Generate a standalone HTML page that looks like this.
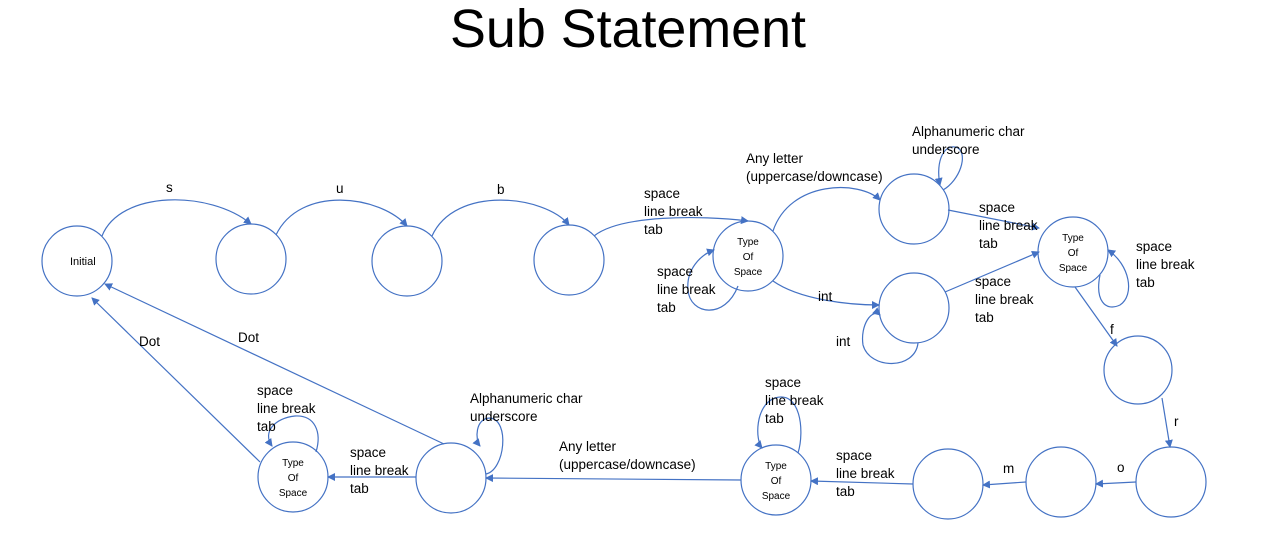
<!DOCTYPE html>
<html><head><meta charset="utf-8"><style>
html,body{margin:0;padding:0;background:#fff;}
svg{display:block;font-family:"Liberation Sans",sans-serif;}
</style></head><body>
<svg width="1265" height="551" viewBox="0 0 1265 551" xmlns="http://www.w3.org/2000/svg">
<defs><marker id="a" markerWidth="8" markerHeight="8" refX="7" refY="4" orient="auto" markerUnits="userSpaceOnUse"><path d="M0,0 L8,4 L0,8 z" fill="#4472C4"/></marker></defs>
<text x="628" y="47" font-size="54" text-anchor="middle" fill="#000" textLength="356" lengthAdjust="spacingAndGlyphs">Sub Statement</text>
<g fill="none" stroke="#4472C4" stroke-width="1.2">
<circle cx="77" cy="261" r="35"/>
<circle cx="251" cy="259" r="35"/>
<circle cx="407" cy="261" r="35"/>
<circle cx="569" cy="260" r="35"/>
<circle cx="748" cy="256" r="35"/>
<circle cx="914" cy="209" r="35"/>
<circle cx="1073" cy="252" r="35"/>
<circle cx="914" cy="308" r="35"/>
<circle cx="1138" cy="370" r="34"/>
<circle cx="1171" cy="482" r="35"/>
<circle cx="1061" cy="482" r="35"/>
<circle cx="948" cy="484" r="35"/>
<circle cx="776" cy="480" r="35"/>
<circle cx="451" cy="478" r="35"/>
<circle cx="293" cy="477" r="35"/>
<g marker-end="url(#a)">
<path d="M102,236 C120,190 210,190 251,224"/>
<path d="M276,235 C300,185 380,195 407,226"/>
<path d="M432,236 C455,185 545,195 569,225"/>
<path d="M594,236 C620,215 700,215 748,221"/>
<path d="M773,231 C790,180 860,180 880,200"/>
<path d="M773,281 C800,300 850,305 879,305"/>
<path d="M948,210 L1039,228"/>
<path d="M945,292 L1039,252"/>
<path d="M1075,287 L1117,346"/>
<path d="M1162,398 L1170,447"/>
<path d="M1136,482 L1096,484"/>
<path d="M1026,482 L983,485"/>
<path d="M913,484 L811,481"/>
<path d="M741,480 L486,478"/>
<path d="M416,477 L328,477"/>
<path d="M444,444 L105,284"/>
<path d="M260,462 L92,298"/>
<path d="M738,286 C725,320 690,315 688,290 C686,270 700,255 714,250"/>
<path d="M943,190 C960,180 968,155 958,148 C945,142 935,160 940,185"/>
<path d="M1100,275 C1095,300 1105,312 1120,305 C1135,295 1130,265 1108,250"/>
<path d="M918,343 C915,370 870,370 863,345 C860,325 872,308 880,315"/>
<path d="M486,474 C505,470 510,420 490,418 C475,418 475,440 480,446"/>
<path d="M798,453 C805,430 800,390 775,398 C755,405 755,440 762,448"/>
<path d="M316,452 C322,432 315,415 295,416 C275,418 262,432 272,446"/>
</g>
</g>
<g font-size="13.5" fill="#000">
<text x="70" y="265" font-size="11">Initial</text>
<text x="166" y="192">s</text>
<text x="336" y="193">u</text>
<text x="497" y="194">b</text>
<text x="644" y="198">space</text><text x="644" y="216">line break</text><text x="644" y="234">tab</text>
<text x="746" y="163">Any letter</text><text x="746" y="181">(uppercase/downcase)</text>
<text x="912" y="136">Alphanumeric char</text><text x="912" y="154">underscore</text>
<text x="979" y="212">space</text><text x="979" y="230">line break</text><text x="979" y="248">tab</text>
<text x="1136" y="251">space</text><text x="1136" y="269">line break</text><text x="1136" y="287">tab</text>
<text x="657" y="276">space</text><text x="657" y="294">line break</text><text x="657" y="312">tab</text>
<text x="818" y="301">int</text>
<text x="836" y="346">int</text>
<text x="975" y="286">space</text><text x="975" y="304">line break</text><text x="975" y="322">tab</text>
<text x="1110" y="334">f</text>
<text x="1174" y="426">r</text>
<text x="1117" y="472">o</text>
<text x="1003" y="473">m</text>
<text x="836" y="460">space</text><text x="836" y="478">line break</text><text x="836" y="496">tab</text>
<text x="765" y="387">space</text><text x="765" y="405">line break</text><text x="765" y="423">tab</text>
<text x="559" y="451">Any letter</text><text x="559" y="469">(uppercase/downcase)</text>
<text x="470" y="403">Alphanumeric char</text><text x="470" y="421">underscore</text>
<text x="350" y="457">space</text><text x="350" y="475">line break</text><text x="350" y="493">tab</text>
<text x="257" y="395">space</text><text x="257" y="413">line break</text><text x="257" y="431">tab</text>
<text x="139" y="346">Dot</text>
<text x="238" y="342">Dot</text>
</g>
<g font-size="10" fill="#000" text-anchor="middle">
<text x="748" y="245">Type</text><text x="748" y="260">Of</text><text x="748" y="275">Space</text>
<text x="1073" y="241">Type</text><text x="1073" y="256">Of</text><text x="1073" y="271">Space</text>
<text x="776" y="469">Type</text><text x="776" y="484">Of</text><text x="776" y="499">Space</text>
<text x="293" y="466">Type</text><text x="293" y="481">Of</text><text x="293" y="496">Space</text>
</g>
</svg>
</body></html>
